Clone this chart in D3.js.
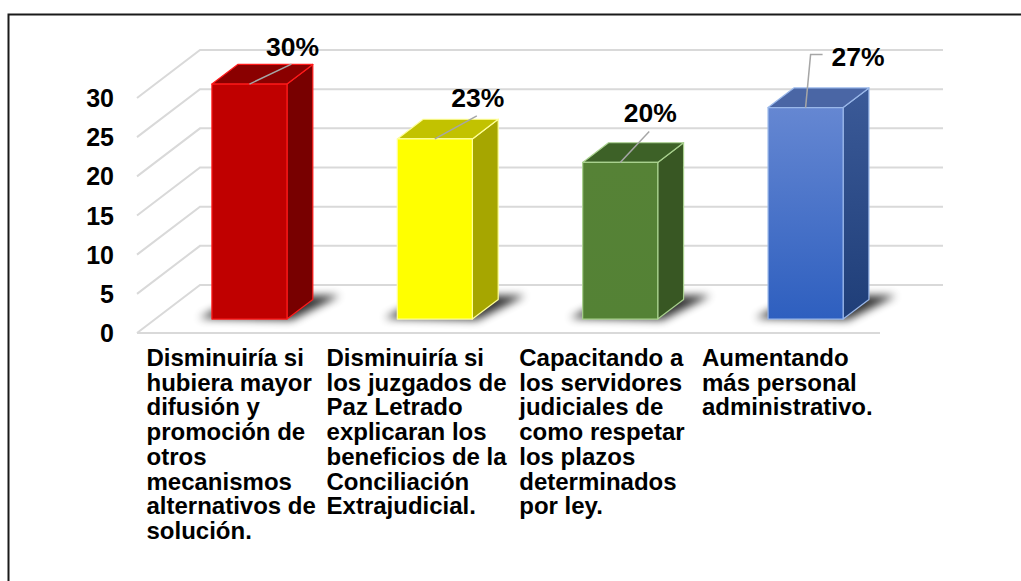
<!DOCTYPE html>
<html>
<head>
<meta charset="utf-8">
<script src="https://cdn.jsdelivr.net/npm/d3@7/dist/d3.min.js"></script>
<style>
  html, body { margin: 0; padding: 0; background: #fff; }
  svg { display: block; }
  text { font-family: "Liberation Sans", Arial, sans-serif; font-weight: bold; fill: #000; }
</style>
</head>
<body>
<svg id="chart" width="1021" height="581"></svg>
<script>
// ---------- data ----------
const categories = [
  "Disminuiría si hubiera mayor difusión y promoción de otros mecanismos alternativos de solución.",
  "Disminuiría si los juzgados de Paz Letrado explicaran los beneficios de la Conciliación Extrajudicial.",
  "Capacitando a los servidores judiciales de como respetar los plazos determinados por ley.",
  "Aumentando más personal administrativo."
];
const values = [30, 23, 20, 27];
const valueLabels = ["30%", "23%", "20%", "27%"];
const yTicks = [0, 5, 10, 15, 20, 25, 30];

// ---------- layout / style ----------
const plot = { x0: 138.5, x1: 880, yBottom: 333, yTop: 98 };
const depth = { dx: 63, dy: -48 };
const barDepth = { d0: 0.29, d1: 0.70 };
const barWidthFrac = 0.405;
const palette = [
  { front: ["#c00000", "#c00000"], side: "#780000", top: "#8a0000", stroke: "#ff1a1a" },
  { front: ["#ffff00", "#ffff00"], side: "#a6a600", top: "#c2c200", stroke: "#ffff9a" },
  { front: ["#568236", "#548235"], side: "#385723", top: "#3d6127", stroke: "#a9d18e" },
  { front: ["#6587d2", "#2e5fbf"], side: ["#3b5a98", "#1f3e78"], top: "#4a66a5", stroke: "#9ab8ea" }
];
// leader / label placement relative to bar front-top centre
const labelLayout = [
  { path: [[0, 0], [42, -20]], text: [43, -28], anchor: "middle" },
  { path: [[0, 0], [42, -23]], text: [43, -32], anchor: "middle" },
  { path: [[0, 0], [29, -31]], text: [30, -40], anchor: "middle" },
  { path: [[0, 0], [5, -53], [17, -53]], text: [26, -42], anchor: "start" }
];

const svg = d3.select("#chart");
const defs = svg.append("defs");

const x = d3.scaleBand().domain(categories).range([plot.x0, plot.x1]).padding(0);
const y = d3.scaleLinear().domain([0, 30]).range([plot.yBottom, plot.yTop]);
const proj = (px, v, d) => [px + depth.dx * d, y(v) + depth.dy * d];

// frame
svg.append("rect").attr("x", 8.5).attr("y", 14.5).attr("width", 1100).attr("height", 700)
  .attr("fill", "none").attr("stroke", "#1a1a1a").attr("stroke-width", 2);

// gridlines: back wall + left wall
const gx0 = 137;
const grid = svg.append("g").attr("stroke", "#d9d9d9").attr("stroke-width", 2).attr("fill", "none");
yTicks.forEach(t => {
  const a = [gx0, y(t)], b = [gx0 + depth.dx, y(t) + depth.dy], c = [plot.x1 + depth.dx, y(t) + depth.dy];
  grid.append("path").attr("d", d3.line()([a, b, c]));
});
grid.append("line").attr("x1", gx0).attr("y1", y(0)).attr("x2", plot.x1).attr("y2", y(0));

// y tick labels
svg.append("g").selectAll("text").data(yTicks).join("text")
  .attr("x", 114).attr("y", d => y(d)).attr("dy", "0.36em")
  .attr("text-anchor", "end").attr("font-size", 25).text(d => d);

// shadows
const blur = defs.append("filter").attr("id", "shadowBlur").attr("x", "-50%").attr("y", "-50%").attr("width", "200%").attr("height", "200%");
blur.append("feGaussianBlur").attr("stdDeviation", 4.5);

const bars = categories.map((c, i) => {
  const cx = x(c) + x.bandwidth() / 2;
  const bw = x.bandwidth() * barWidthFrac;
  return { c, i, v: values[i], xl: cx - bw / 2, xr: cx + bw / 2, cx };
});

svg.append("g").selectAll("path").data(bars).join("path")
  .attr("filter", "url(#shadowBlur)")
  .attr("fill", "#000").attr("opacity", 0.8)
  .attr("d", b => d3.line()([
    proj(b.xl - 14, 0, barDepth.d0 + 0.02),
    proj(b.xr + 6, 0, barDepth.d0 - 0.02),
    proj(b.xr + 22, 0, barDepth.d1 + 0.08),
    proj(b.xl, 0, barDepth.d1 + 0.08)
  ]) + "Z");

// gradients
palette.forEach((p, i) => {
  const g = defs.append("linearGradient").attr("id", "front" + i).attr("x1", 0).attr("y1", 0).attr("x2", 0).attr("y2", 1);
  g.append("stop").attr("offset", "0%").attr("stop-color", p.front[0]);
  g.append("stop").attr("offset", "100%").attr("stop-color", p.front[1]);
  if (Array.isArray(p.side)) {
    const s = defs.append("linearGradient").attr("id", "side" + i).attr("x1", 0).attr("y1", 0).attr("x2", 0).attr("y2", 1);
    s.append("stop").attr("offset", "0%").attr("stop-color", p.side[0]);
    s.append("stop").attr("offset", "100%").attr("stop-color", p.side[1]);
  }
});

const d0 = barDepth.d0, d1 = barDepth.d1;
const barG = svg.append("g").selectAll("g").data(bars).join("g");
barG.append("path")
  .attr("fill", b => Array.isArray(palette[b.i].side) ? `url(#side${b.i})` : palette[b.i].side)
  .attr("stroke", b => palette[b.i].stroke).attr("stroke-width", 1.2).attr("stroke-linejoin", "round")
  .attr("d", b => d3.line()([proj(b.xr, b.v, d0), proj(b.xr, b.v, d1), proj(b.xr, 0, d1), proj(b.xr, 0, d0)]) + "Z");
barG.append("path")
  .attr("fill", b => palette[b.i].top)
  .attr("stroke", b => palette[b.i].stroke).attr("stroke-width", 1.2).attr("stroke-linejoin", "round")
  .attr("d", b => d3.line()([proj(b.xl, b.v, d0), proj(b.xr, b.v, d0), proj(b.xr, b.v, d1), proj(b.xl, b.v, d1)]) + "Z");
barG.append("path")
  .attr("fill", b => `url(#front${b.i})`)
  .attr("stroke", b => palette[b.i].stroke).attr("stroke-width", 1.2).attr("stroke-linejoin", "round")
  .attr("d", b => d3.line()([proj(b.xl, b.v, d0), proj(b.xr, b.v, d0), proj(b.xr, 0, d0), proj(b.xl, 0, d0)]) + "Z");

// value labels with leader lines
const lab = svg.append("g").selectAll("g").data(bars).join("g")
  .attr("transform", b => { const p = proj(b.cx, b.v, d0); return `translate(${p[0]},${p[1]})`; });
lab.append("path").attr("fill", "none").attr("stroke", "#a6a6a6").attr("stroke-width", 1.5)
  .attr("d", b => d3.line()(labelLayout[b.i].path));
lab.append("text").attr("font-size", 26.5)
  .attr("x", b => labelLayout[b.i].text[0]).attr("y", b => labelLayout[b.i].text[1])
  .attr("text-anchor", b => labelLayout[b.i].anchor)
  .text(b => valueLabels[b.i]);

// category labels (wrapped, left-aligned block centred on category)
const catFont = 24, lineH = 24.7, wrapEm = 7.9, catTop = 366;
const catG = svg.append("g").selectAll("g").data(bars).join("g");
catG.each(function (b) {
  const g = d3.select(this);
  const t = g.append("text").attr("font-size", catFont);
  const words = b.c.split(" ");
  const lines = [];
  let cur = [];
  const probe = svg.append("text").attr("font-size", catFont);
  words.forEach(w => {
    const test = cur.concat([w]).join(" ");
    probe.text(test);
    if (cur.length && probe.node().getComputedTextLength() > wrapEm * catFont) {
      lines.push(cur.join(" "));
      cur = [w];
    } else cur.push(w);
  });
  if (cur.length) lines.push(cur.join(" "));
  let maxW = 0;
  lines.forEach(l => { probe.text(l); maxW = Math.max(maxW, probe.node().getComputedTextLength()); });
  probe.remove();
  const left = b.cx - maxW / 2;
  lines.forEach((l, k) => {
    t.append("tspan").attr("x", left).attr("y", catTop + k * lineH).text(l);
  });
});
</script>
</body>
</html>
